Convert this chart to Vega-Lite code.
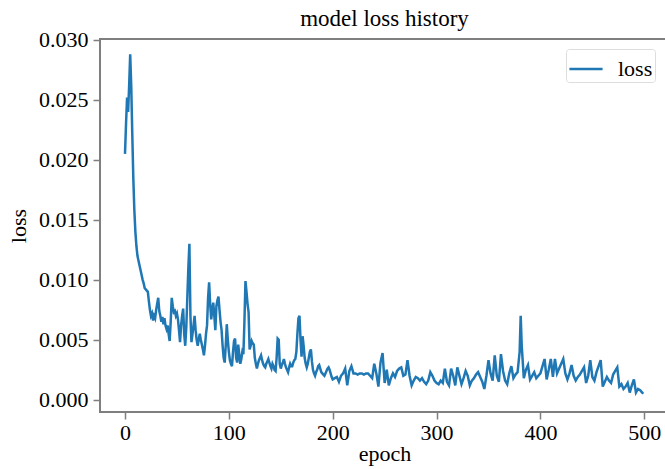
{
  "$schema": "https://vega.github.io/schema/vega-lite/v6.json",
  "width": 569,
  "height": 373,
  "autosize": {"type": "none"},
  "padding": {"left": 100, "top": 39, "right": 0, "bottom": 57},
  "background": "white",
  "title": {"text": "model loss history", "font": "Liberation Serif", "fontSize": 23, "fontWeight": "normal", "color": "#000000", "anchor": "middle", "offset": -2},
  "config": {
    "view": {"stroke": "#7f7f7f", "strokeWidth": 2},
    "axis": {"labelFont": "Liberation Serif", "titleFont": "Liberation Serif", "labelFontSize": 22, "titleFontSize": 22, "titleFontWeight": "normal", "labelColor": "#000000", "titleColor": "#000000", "domain": false, "grid": false, "tickColor": "#7f7f7f", "tickWidth": 1.5, "tickSize": 7, "labelPadding": 3}
  },
  "data": {"values": [
    {"epoch":0,"loss":0.0205},{"epoch":1,"loss":0.0230},{"epoch":2,"loss":0.0252},{"epoch":3,"loss":0.0240},{"epoch":4,"loss":0.0262},{"epoch":5,"loss":0.0288},{"epoch":6,"loss":0.0262},{"epoch":7,"loss":0.0222},{"epoch":8,"loss":0.0185},{"epoch":9,"loss":0.0158},
    {"epoch":10,"loss":0.0140},{"epoch":11,"loss":0.0128},{"epoch":12,"loss":0.0120},{"epoch":13,"loss":0.0116},{"epoch":14,"loss":0.0112},{"epoch":15,"loss":0.0108},{"epoch":16,"loss":0.0104},{"epoch":17,"loss":0.0100},{"epoch":18,"loss":0.0097},{"epoch":19,"loss":0.0093},
    {"epoch":20,"loss":0.0092},{"epoch":21,"loss":0.0091},{"epoch":22,"loss":0.0090},{"epoch":23,"loss":0.0082},{"epoch":24,"loss":0.0075},{"epoch":25,"loss":0.0070},{"epoch":26,"loss":0.0072},{"epoch":27,"loss":0.0066},{"epoch":28,"loss":0.0070},{"epoch":29,"loss":0.0068},
    {"epoch":30,"loss":0.0075},{"epoch":31,"loss":0.0080},{"epoch":32,"loss":0.0085},{"epoch":33,"loss":0.0074},{"epoch":34,"loss":0.0070},{"epoch":35,"loss":0.0065},{"epoch":36,"loss":0.0069},{"epoch":37,"loss":0.0063},{"epoch":38,"loss":0.0068},{"epoch":39,"loss":0.0062},
    {"epoch":40,"loss":0.0059},{"epoch":41,"loss":0.0062},{"epoch":42,"loss":0.0055},{"epoch":43,"loss":0.0049},{"epoch":44,"loss":0.0065},{"epoch":45,"loss":0.0085},{"epoch":46,"loss":0.0078},{"epoch":47,"loss":0.0073},{"epoch":48,"loss":0.0074},{"epoch":49,"loss":0.0070},
    {"epoch":50,"loss":0.0072},{"epoch":51,"loss":0.0067},{"epoch":52,"loss":0.0058},{"epoch":53,"loss":0.0048},{"epoch":54,"loss":0.0062},{"epoch":55,"loss":0.0070},{"epoch":56,"loss":0.0076},{"epoch":57,"loss":0.0055},{"epoch":58,"loss":0.0045},{"epoch":59,"loss":0.0060},
    {"epoch":60,"loss":0.0085},{"epoch":61,"loss":0.0110},{"epoch":62,"loss":0.0130},{"epoch":63,"loss":0.0070},{"epoch":64,"loss":0.0048},{"epoch":65,"loss":0.0055},{"epoch":66,"loss":0.0062},{"epoch":67,"loss":0.0070},{"epoch":68,"loss":0.0058},{"epoch":69,"loss":0.0050},
    {"epoch":70,"loss":0.0045},{"epoch":71,"loss":0.0050},{"epoch":72,"loss":0.0055},{"epoch":73,"loss":0.0050},{"epoch":74,"loss":0.0046},{"epoch":75,"loss":0.0042},{"epoch":76,"loss":0.0037},{"epoch":77,"loss":0.0045},{"epoch":78,"loss":0.0055},{"epoch":79,"loss":0.0062},
    {"epoch":80,"loss":0.0085},{"epoch":81,"loss":0.0098},{"epoch":82,"loss":0.0080},{"epoch":83,"loss":0.0067},{"epoch":84,"loss":0.0075},{"epoch":85,"loss":0.0081},{"epoch":86,"loss":0.0070},{"epoch":87,"loss":0.0058},{"epoch":88,"loss":0.0078},{"epoch":89,"loss":0.0083},
    {"epoch":90,"loss":0.0086},{"epoch":91,"loss":0.0075},{"epoch":92,"loss":0.0065},{"epoch":93,"loss":0.0058},{"epoch":94,"loss":0.0045},{"epoch":95,"loss":0.0035},{"epoch":96,"loss":0.0031},{"epoch":97,"loss":0.0045},{"epoch":98,"loss":0.0063},{"epoch":99,"loss":0.0050},
    {"epoch":100,"loss":0.0040},{"epoch":101,"loss":0.0033},{"epoch":102,"loss":0.0030},{"epoch":103,"loss":0.0028},{"epoch":104,"loss":0.0040},{"epoch":105,"loss":0.0049},{"epoch":106,"loss":0.0051},{"epoch":107,"loss":0.0035},{"epoch":108,"loss":0.0031},{"epoch":109,"loss":0.0046},
    {"epoch":110,"loss":0.0038},{"epoch":111,"loss":0.0030},{"epoch":112,"loss":0.0034},{"epoch":113,"loss":0.0040},{"epoch":114,"loss":0.0038},{"epoch":115,"loss":0.0065},{"epoch":116,"loss":0.0099},{"epoch":117,"loss":0.0090},{"epoch":118,"loss":0.0080},{"epoch":119,"loss":0.0073},
    {"epoch":120,"loss":0.0042},{"epoch":121,"loss":0.0045},{"epoch":122,"loss":0.0049},{"epoch":123,"loss":0.0047},{"epoch":124,"loss":0.0046},{"epoch":125,"loss":0.0035},{"epoch":126,"loss":0.0030},{"epoch":127,"loss":0.0026},{"epoch":128,"loss":0.0030},{"epoch":129,"loss":0.0033},
    {"epoch":130,"loss":0.0035},{"epoch":131,"loss":0.0037},{"epoch":132,"loss":0.0033},{"epoch":133,"loss":0.0030},{"epoch":134,"loss":0.0028},{"epoch":135,"loss":0.0027},{"epoch":136,"loss":0.0030},{"epoch":137,"loss":0.0032},{"epoch":138,"loss":0.0034},{"epoch":139,"loss":0.0031},
    {"epoch":140,"loss":0.0028},{"epoch":141,"loss":0.0026},{"epoch":142,"loss":0.0030},{"epoch":143,"loss":0.0028},{"epoch":144,"loss":0.0025},{"epoch":145,"loss":0.0024},{"epoch":146,"loss":0.0035},{"epoch":147,"loss":0.0051},{"epoch":148,"loss":0.0050},{"epoch":149,"loss":0.0030},
    {"epoch":150,"loss":0.0026},{"epoch":151,"loss":0.0029},{"epoch":152,"loss":0.0031},{"epoch":153,"loss":0.0034},{"epoch":154,"loss":0.0030},{"epoch":155,"loss":0.0027},{"epoch":156,"loss":0.0025},{"epoch":157,"loss":0.0023},{"epoch":158,"loss":0.0027},{"epoch":159,"loss":0.0030},
    {"epoch":160,"loss":0.0028},{"epoch":161,"loss":0.0028},{"epoch":162,"loss":0.0031},{"epoch":163,"loss":0.0033},{"epoch":164,"loss":0.0034},{"epoch":165,"loss":0.0040},{"epoch":166,"loss":0.0055},{"epoch":167,"loss":0.0068},{"epoch":168,"loss":0.0070},{"epoch":169,"loss":0.0050},
    {"epoch":170,"loss":0.0036},{"epoch":171,"loss":0.0053},{"epoch":172,"loss":0.0045},{"epoch":173,"loss":0.0035},{"epoch":174,"loss":0.0030},{"epoch":175,"loss":0.0027},{"epoch":176,"loss":0.0030},{"epoch":177,"loss":0.0035},{"epoch":178,"loss":0.0040},{"epoch":179,"loss":0.0042},
    {"epoch":180,"loss":0.0032},{"epoch":181,"loss":0.0025},{"epoch":182,"loss":0.0022},{"epoch":183,"loss":0.0020},{"epoch":184,"loss":0.0023},{"epoch":185,"loss":0.0025},{"epoch":186,"loss":0.0028},{"epoch":187,"loss":0.0029},{"epoch":188,"loss":0.0026},{"epoch":189,"loss":0.0023},
    {"epoch":190,"loss":0.0022},{"epoch":191,"loss":0.0021},{"epoch":192,"loss":0.0020},{"epoch":193,"loss":0.0022},{"epoch":194,"loss":0.0024},{"epoch":195,"loss":0.0026},{"epoch":196,"loss":0.0027},{"epoch":197,"loss":0.0025},{"epoch":198,"loss":0.0022},{"epoch":199,"loss":0.0019},
    {"epoch":200,"loss":0.0017},{"epoch":202,"loss":0.0018},{"epoch":204,"loss":0.0019},{"epoch":206,"loss":0.0015},{"epoch":208,"loss":0.0020},{"epoch":210,"loss":0.0022},{"epoch":212,"loss":0.0026},{"epoch":214,"loss":0.0012},{"epoch":216,"loss":0.0024},{"epoch":218,"loss":0.0028},
    {"epoch":220,"loss":0.0022},{"epoch":222,"loss":0.0022},{"epoch":224,"loss":0.0021},{"epoch":226,"loss":0.0022},{"epoch":228,"loss":0.0022},{"epoch":230,"loss":0.0021},{"epoch":232,"loss":0.0022},{"epoch":234,"loss":0.0022},{"epoch":236,"loss":0.0020},{"epoch":238,"loss":0.0018},
    {"epoch":240,"loss":0.0030},{"epoch":242,"loss":0.0022},{"epoch":244,"loss":0.0011},{"epoch":246,"loss":0.0031},{"epoch":248,"loss":0.0039},{"epoch":250,"loss":0.0014},{"epoch":252,"loss":0.0025},{"epoch":254,"loss":0.0012},{"epoch":256,"loss":0.0018},{"epoch":258,"loss":0.0022},
    {"epoch":260,"loss":0.0019},{"epoch":262,"loss":0.0024},{"epoch":264,"loss":0.0026},{"epoch":266,"loss":0.0027},{"epoch":268,"loss":0.0020},{"epoch":270,"loss":0.0021},{"epoch":272,"loss":0.0033},{"epoch":274,"loss":0.0020},{"epoch":276,"loss":0.0012},{"epoch":278,"loss":0.0016},
    {"epoch":280,"loss":0.0019},{"epoch":282,"loss":0.0018},{"epoch":284,"loss":0.0016},{"epoch":286,"loss":0.0018},{"epoch":288,"loss":0.0015},{"epoch":290,"loss":0.0013},{"epoch":292,"loss":0.0016},{"epoch":294,"loss":0.0023},{"epoch":296,"loss":0.0020},{"epoch":298,"loss":0.0016},
    {"epoch":300,"loss":0.0014},{"epoch":302,"loss":0.0013},{"epoch":304,"loss":0.0016},{"epoch":306,"loss":0.0014},{"epoch":308,"loss":0.0026},{"epoch":310,"loss":0.0015},{"epoch":312,"loss":0.0012},{"epoch":314,"loss":0.0026},{"epoch":316,"loss":0.0020},{"epoch":318,"loss":0.0012},
    {"epoch":320,"loss":0.0027},{"epoch":322,"loss":0.0020},{"epoch":324,"loss":0.0013},{"epoch":326,"loss":0.0018},{"epoch":328,"loss":0.0024},{"epoch":330,"loss":0.0020},{"epoch":332,"loss":0.0012},{"epoch":334,"loss":0.0016},{"epoch":336,"loss":0.0018},{"epoch":338,"loss":0.0021},
    {"epoch":340,"loss":0.0023},{"epoch":342,"loss":0.0019},{"epoch":344,"loss":0.0015},{"epoch":346,"loss":0.0009},{"epoch":348,"loss":0.0020},{"epoch":350,"loss":0.0033},{"epoch":352,"loss":0.0022},{"epoch":354,"loss":0.0016},{"epoch":356,"loss":0.0037},{"epoch":358,"loss":0.0020},
    {"epoch":360,"loss":0.0015},{"epoch":362,"loss":0.0038},{"epoch":364,"loss":0.0024},{"epoch":366,"loss":0.0016},{"epoch":368,"loss":0.0013},{"epoch":370,"loss":0.0022},{"epoch":372,"loss":0.0028},{"epoch":374,"loss":0.0018},{"epoch":376,"loss":0.0021},{"epoch":378,"loss":0.0023},
    {"epoch":380,"loss":0.0040},{"epoch":381,"loss":0.0070},{"epoch":382,"loss":0.0045},{"epoch":384,"loss":0.0018},{"epoch":386,"loss":0.0025},{"epoch":388,"loss":0.0029},{"epoch":390,"loss":0.0017},{"epoch":392,"loss":0.0020},{"epoch":394,"loss":0.0023},{"epoch":396,"loss":0.0018},{"epoch":398,"loss":0.0020},
    {"epoch":400,"loss":0.0022},{"epoch":402,"loss":0.0028},{"epoch":404,"loss":0.0034},{"epoch":406,"loss":0.0017},{"epoch":408,"loss":0.0025},{"epoch":410,"loss":0.0034},{"epoch":412,"loss":0.0019},{"epoch":414,"loss":0.0034},{"epoch":416,"loss":0.0022},{"epoch":418,"loss":0.0026},
    {"epoch":420,"loss":0.0030},{"epoch":422,"loss":0.0034},{"epoch":424,"loss":0.0022},{"epoch":426,"loss":0.0017},{"epoch":428,"loss":0.0022},{"epoch":430,"loss":0.0029},{"epoch":432,"loss":0.0020},{"epoch":434,"loss":0.0016},{"epoch":436,"loss":0.0019},{"epoch":438,"loss":0.0021},
    {"epoch":440,"loss":0.0024},{"epoch":442,"loss":0.0027},{"epoch":444,"loss":0.0014},{"epoch":446,"loss":0.0020},{"epoch":448,"loss":0.0033},{"epoch":450,"loss":0.0019},{"epoch":452,"loss":0.0016},{"epoch":454,"loss":0.0023},{"epoch":456,"loss":0.0028},{"epoch":458,"loss":0.0033},
    {"epoch":460,"loss":0.0011},{"epoch":462,"loss":0.0015},{"epoch":464,"loss":0.0019},{"epoch":466,"loss":0.0016},{"epoch":468,"loss":0.0014},{"epoch":470,"loss":0.0021},{"epoch":472,"loss":0.0024},{"epoch":474,"loss":0.0027},{"epoch":476,"loss":0.0011},{"epoch":478,"loss":0.0013},
    {"epoch":480,"loss":0.0009},{"epoch":482,"loss":0.0011},{"epoch":484,"loss":0.0014},{"epoch":486,"loss":0.0006},{"epoch":488,"loss":0.0012},{"epoch":490,"loss":0.0017},{"epoch":492,"loss":0.0006},{"epoch":494,"loss":0.0009},{"epoch":496,"loss":0.0008},{"epoch":498,"loss":0.0006},{"epoch":499,"loss":0.0005}
  ]},
  "mark": {"type": "line", "strokeWidth": 2.5, "clip": true},
  "encoding": {
    "x": {"field": "epoch", "type": "quantitative", "title": "epoch",
      "scale": {"domain": [-24.07, 523.8], "nice": false, "zero": false},
      "axis": {"values": [0, 100, 200, 300, 400, 500], "titlePadding": 0}},
    "y": {"field": "loss", "type": "quantitative", "title": "loss",
      "scale": {"domain": [-0.00102, 0.03008], "nice": false, "zero": false},
      "axis": {"values": [0, 0.005, 0.01, 0.015, 0.02, 0.025, 0.03], "format": ".3f", "titlePadding": 8, "labelPadding": 5}},
    "color": {"datum": "loss", "type": "nominal",
      "scale": {"range": ["#1f77b4"]},
      "legend": {"title": null, "orient": "none", "legendX": 466, "legendY": 10, "symbolType": "stroke", "symbolSize": 1100, "symbolStrokeWidth": 2.5, "labelFont": "Liberation Serif", "labelFontSize": 22, "labelColor": "#000000", "fillColor": "white", "strokeColor": "#dddddd", "cornerRadius": 3, "padding": 2, "labelOffset": 14}}
  }
}
